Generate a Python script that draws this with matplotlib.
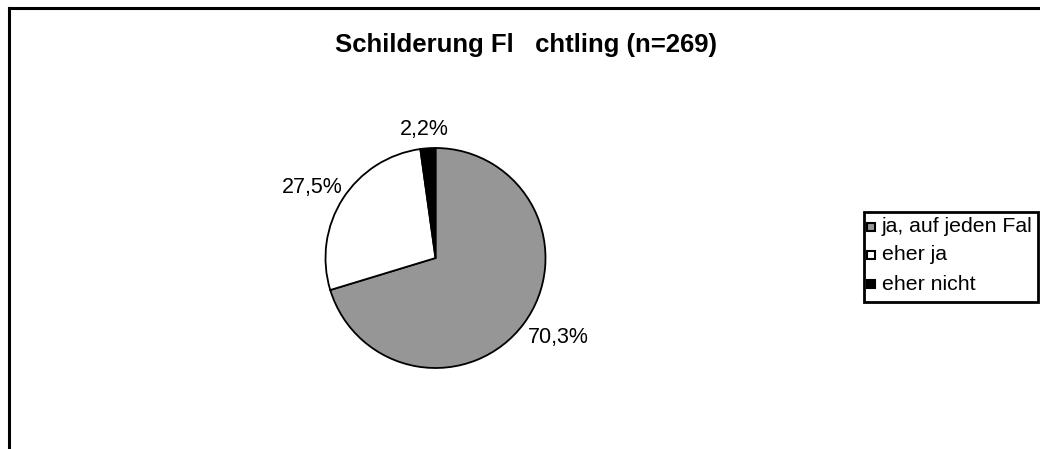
import matplotlib.pyplot as plt
from matplotlib.lines import Line2D
from matplotlib.patches import Rectangle

plt.rcParams['font.family'] = ['Liberation Sans', 'DejaVu Sans']

categories = ['ja, auf jeden Fal', 'eher ja', 'eher nicht']
values = [70.3, 27.5, 2.2]
labels = ['70,3%', '27,5%', '2,2%']
colors = ['#969696', '#ffffff', '#000000']

W, H = 1040, 449
fig = plt.figure(figsize=(W / 100, H / 100), dpi=100)

# outer chart frame (cut off at right and bottom)
fig.add_artist(Line2D([9 / W, 1], [1 - 8 / H, 1 - 8 / H], color='black', lw=2.2))
fig.add_artist(Line2D([9 / W, 9 / W], [0, 1 - 8 / H], color='black', lw=2.2))

fig.text(526 / W, 1 - 45 / H, 'Schilderung Fl   chtling (n=269)',
         ha='center', va='center', fontsize=18.5, fontweight='bold')

r = 110
ax = fig.add_axes([(435.5 - r) / W, (H - 258 - r) / H, 2 * r / W, 2 * r / H])
ax.pie(values, colors=colors, startangle=90, counterclock=False,
       wedgeprops=dict(edgecolor='black', linewidth=1.3))
ax.set_xlim(-1, 1)
ax.set_ylim(-1, 1)
ax.set_aspect('auto')
ax.axis('off')

label_pos = [(558, 337), (312, 188), (424, 130)]
for (x, y), t in zip(label_pos, labels):
    fig.text(x / W, 1 - y / H, t, ha='center', va='center', fontsize=15.5)

# legend box
fig.add_artist(Rectangle((864 / W, 1 - 302 / H), 174 / W, 90 / H,
                         transform=fig.transFigure, facecolor='none',
                         edgecolor='black', lw=2))
ys = [227, 255, 284]
for y, c, t in zip(ys, colors, categories):
    fig.add_artist(Line2D([871 / W], [1 - y / H], marker='s', linestyle='none', markersize=6,
                          markerfacecolor=c, markeredgecolor='black', markeredgewidth=1.5))
    fig.text(881.5 / W, 1 - y / H, t, ha='left', va='center', fontsize=15.3)

fig.savefig('out.png', dpi=100)
